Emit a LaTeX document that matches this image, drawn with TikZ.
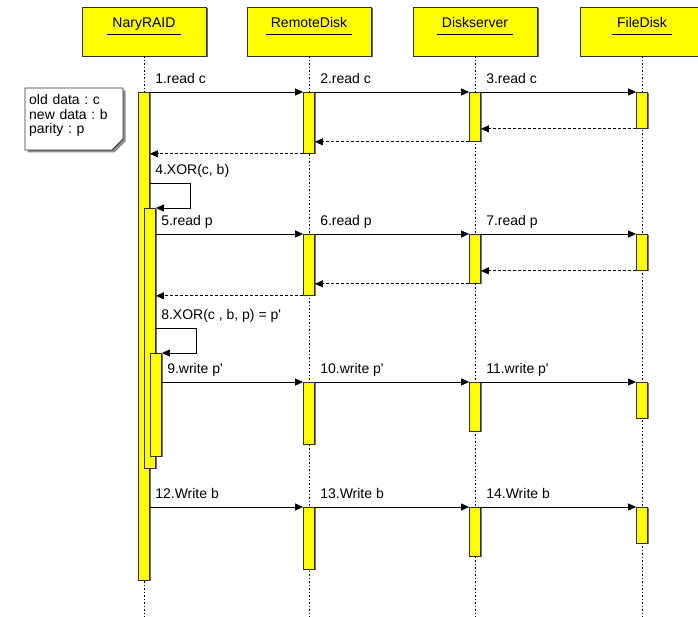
\documentclass[tikz,border=0pt]{standalone}
\usepackage{fontspec}
\setmainfont{Liberation Sans}
\usetikzlibrary{arrows.meta,calc,shadows,backgrounds,positioning}
\definecolor{ObjYellow}{RGB}{255,255,0}
\definecolor{EdgeGray}{RGB}{48,48,48}
\frenchspacing

\begin{document}
\begin{tikzpicture}[
    x=1pt, y=-1pt, % pixel grid, y grows downwards
    font=\fontsize{14}{15}\selectfont,
    objbox/.style={rectangle, draw=EdgeGray, fill=ObjYellow, line width=0.8pt,
      minimum width=124pt, minimum height=49pt, inner sep=0pt,
      general shadow={fill=black!60, shadow xshift=1.5pt, shadow yshift=-1.5pt}},
    objname/.style={inner sep=0pt, anchor=base},
    uline/.style={line width=0.8pt},
    lifeline/.style={line width=0.8pt, dash pattern=on 1.5pt off 2pt},
    act/.style={rectangle, draw=EdgeGray, fill=ObjYellow, line width=0.8pt,
      minimum width=11pt, inner sep=0pt, anchor=north,
      general shadow={fill=black!55, shadow xshift=1pt, shadow yshift=-1pt}},
    msg/.style={-{Triangle[length=8pt, width=7pt]}, line width=0.8pt},
    ret/.style={msg, dash pattern=on 3pt off 2pt},
    lbl/.style={inner sep=0pt, anchor=base west, xshift=5pt, yshift=8.5pt},
    notetext/.style={inner xsep=4pt, inner ysep=6.5pt, anchor=north west,
      text width=90pt, align=left, font=\fontsize{14}{14.5}\selectfont},
    notebox/.style={draw=EdgeGray, fill=white, line width=0.8pt,
      general shadow={fill=black!45, shadow xshift=2.5pt, shadow yshift=-2.5pt}}
  ]
    \useasboundingbox (0,0) rectangle (698,617);

    % Objects
    \node[objbox] (nr) at (144,31.5) {};
    \node[objbox] (rd) at (309,31.5) {};
    \node[objbox] (ds) at (475,31.5) {};
    \node[objbox] (fd) at (642,31.5) {};
    \node[objname] (nrname) at (144,28) {NaryRAID};
    \node[objname] (rdname) at (309,28) {RemoteDisk};
    \node[objname] (dsname) at (475,28) {Diskserver};
    \node[objname] (fdname) at (642,28) {FileDisk};
    \draw[uline] ([xshift=-5pt,yshift=-6pt]nrname.base west) -- ([xshift=5pt,yshift=-6pt]nrname.base east);
    \draw[uline] ([xshift=-5pt,yshift=-6pt]rdname.base west) -- ([xshift=5pt,yshift=-6pt]rdname.base east);
    \draw[uline] ([xshift=-5pt,yshift=-6pt]dsname.base west) -- ([xshift=5pt,yshift=-6pt]dsname.base east);
    \draw[uline] ([xshift=-5pt,yshift=-6pt]fdname.base west) -- ([xshift=5pt,yshift=-6pt]fdname.base east);

    % Lifelines
    \coordinate (nrend) at (144,617);
    \coordinate (rdend) at (309,617);
    \coordinate (dsend) at (475,617);
    \coordinate (fdend) at (642,617);
    \draw[lifeline] (nr.south) -- (nrend);
    \draw[lifeline] (rd.south) -- (rdend);
    \draw[lifeline] (ds.south) -- (dsend);
    \draw[lifeline] (fd.south) -- (fdend);

    % Note
    \node[notetext] (note) at (25,88) {old data : c\\new data : b\\parity : p};
    \begin{scope}[on background layer]
      \draw[notebox] (note.north west) -- ++(98,0) -- ++(0,51) -- ++(-11,11)
        -- ++(-87,0) -- cycle;
    \end{scope}

    % Activations
    \node[act, minimum height=488pt] (nr1) at (144,92) {};
    \node[act, minimum height=260pt] (nr2) at (150,208) {};
    \node[act, minimum height=103pt] (nr3) at (156,353) {};
    \node[act, minimum height=61pt] (rd1) at (309,92) {};
    \node[act, minimum height=61pt] (rd2) at (309,234) {};
    \node[act, minimum height=62pt] (rd3) at (309,382) {};
    \node[act, minimum height=62pt] (rd4) at (309,507) {};
    \node[act, minimum height=49pt] (ds1) at (475,92) {};
    \node[act, minimum height=49pt] (ds2) at (475,234) {};
    \node[act, minimum height=49pt] (ds3) at (475,382) {};
    \node[act, minimum height=49pt] (ds4) at (475,507) {};
    \node[act, minimum height=36pt] (fd1) at (642,92) {};
    \node[act, minimum height=36pt] (fd2) at (642,234) {};
    \node[act, minimum height=36pt] (fd3) at (642,382) {};
    \node[act, minimum height=36pt] (fd4) at (642,507) {};

    % Read old data
    \draw[msg] (nr1.north east) -- node[lbl, at start] (m1) {1.read c} (rd1.north west);
    \draw[msg] (rd1.north east) -- node[lbl, at start] (m2) {2.read c} (ds1.north west);
    \draw[msg] (ds1.north east) -- node[lbl, at start] (m3) {3.read c} (fd1.north west);
    \draw[ret] (fd1.south west) -- (fd1.south west -| ds1.east);
    \draw[ret] (ds1.south west) -- (ds1.south west -| rd1.east);
    \draw[ret] (rd1.south west) -- (rd1.south west -| nr1.east);

    \coordinate (x4) at ($(nr2.north east)+(34,-25)$);
    \draw[msg] (nr1.east |- x4) -- node[lbl, at start] (m4) {4.XOR(c, b)} (x4) |- (nr2.north east);

    % Read parity
    \draw[msg] (nr2.east |- rd2.north) -- node[lbl, at start] (m5) {5.read p} (rd2.north west);
    \draw[msg] (rd2.north east) -- node[lbl, at start] (m6) {6.read p} (ds2.north west);
    \draw[msg] (ds2.north east) -- node[lbl, at start] (m7) {7.read p} (fd2.north west);
    \draw[ret] (fd2.south west) -- (fd2.south west -| ds2.east);
    \draw[ret] (ds2.south west) -- (ds2.south west -| rd2.east);
    \draw[ret] (rd2.south west) -- (rd2.south west -| nr2.east);

    \coordinate (x8) at ($(nr3.north east)+(34,-25)$);
    \draw[msg] (nr2.east |- x8) -- node[lbl, at start] (m8) {8.XOR(c , b, p) = p\textquotesingle} (x8) |- (nr3.north east);

    % Write parity and new data
    \draw[msg] (nr3.east |- rd3.north) -- node[lbl, at start] (m9) {9.write p\textquotesingle} (rd3.north west);
    \draw[msg] (rd3.north east) -- node[lbl, at start] (m10) {10.write p\textquotesingle} (ds3.north west);
    \draw[msg] (ds3.north east) -- node[lbl, at start] (m11) {11.write p\textquotesingle} (fd3.north west);
    \draw[msg] (nr1.east |- rd4.north) -- node[lbl, at start] (m12) {12.Write b} (rd4.north west);
    \draw[msg] (rd4.north east) -- node[lbl, at start] (m13) {13.Write b} (ds4.north west);
    \draw[msg] (ds4.north east) -- node[lbl, at start] (m14) {14.Write b} (fd4.north west);

\end{tikzpicture}
\end{document}
